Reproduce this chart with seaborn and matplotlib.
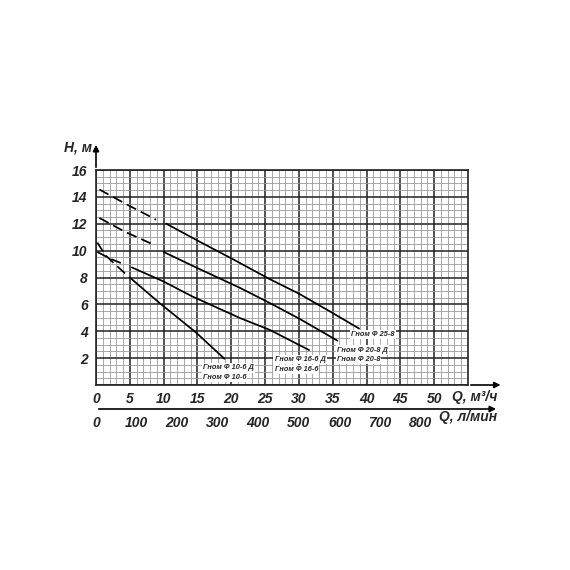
import numpy as np
import pandas as pd
import seaborn as sns
import matplotlib.pyplot as plt
from matplotlib.ticker import MultipleLocator

sns.set_theme(style="white")
plt.rcParams["font.family"] = ["Liberation Sans", "DejaVu Sans"]

## Curves: Q in m3/h, H in m
# dashed start (non-working zone) and solid working part for each pump
q25_dash = [0.5, 4.5, 8.9]
h25_dash = [14.55, 13.45, 12.3]
q25 = [10.4, 15.0, 20.1, 25.6, 30.0, 34.5, 38.9]
h25 = [12.0, 10.75, 9.4, 7.9, 6.8, 5.5, 4.2]

q20_dash = [0.5, 4.3, 8.7]
h20_dash = [12.43, 11.4, 10.4]
q20 = [10.0, 15.0, 21.2, 25.7, 30.0, 35.7]
h20 = [9.9, 8.7, 7.25, 6.1, 4.95, 3.3]

q16_dash = [0.2, 2.1, 4.3]
h16_dash = [9.9, 9.4, 8.95]
q16 = [5.3, 10.0, 14.2, 21.2, 25.7, 31.5]
h16 = [8.75, 7.7, 6.6, 5.0, 4.1, 2.6]

q10_dash = [0.2, 1.4, 4.3]
h10_dash = [10.6, 9.65, 8.3]
q10 = [5.0, 9.4, 14.8, 19.0]
h10 = [8.0, 6.1, 3.9, 1.95]

label_text = ["Гном Ф 25-8", "Гном Ф 20-8 Д", "Гном Ф 20-8",
              "Гном Ф 16-6 Д", "Гном Ф 16-6", "Гном Ф 10-6 Д", "Гном Ф 10-6"]
label_q = [37.7, 35.6, 35.6, 26.4, 26.4, 15.8, 15.8]
label_h = [3.77, 2.6, 1.9, 1.9, 1.15, 1.27, 0.57]

x_ticks = list(range(0, 55, 5))
y_ticks = list(range(0, 17, 2))
y_ticklabels = [""] + [str(v) for v in y_ticks[1:]]
lmin_ticks = list(range(0, 900, 100))

Q_MAX, H_MAX = 55, 16
M3H_TO_LMIN = 1000 / 60

curves = [
    (q25_dash, h25_dash, "dash"), (q25, h25, "solid"),
    (q20_dash, h20_dash, "dash"), (q20, h20, "solid"),
    (q16_dash, h16_dash, "dash"), (q16, h16, "solid"),
    (q10_dash, h10_dash, "dash"), (q10, h10, "solid"),
]

font = dict(weight="bold", style="italic")


def _style_ticklabels(axis):
    for lab in axis.get_xticklabels() + axis.get_yticklabels():
        lab.set_fontsize(10)
        lab.set_fontweight("bold")
        lab.set_fontstyle("italic")


fig = plt.figure(figsize=(5.7, 5.7), dpi=100)
ax = fig.add_axes([96 / 570, 1 - 385 / 570, 372 / 570, 215 / 570])

for qs, hs, kind in curves:
    df = pd.DataFrame({"Q": qs, "H": hs})
    sns.lineplot(data=df, x="Q", y="H", ax=ax, color="black", lw=1.25,
                 sort=False, estimator=None)
    if kind == "dash":
        ax.lines[-1].set_linestyle((0, (6, 3)))

for t, q, h in zip(label_text, label_q, label_h):
    ax.text(q, h, t, fontsize=5.3, ha="left", va="center", zorder=5,
            bbox=dict(facecolor="white", edgecolor="none", pad=0.8), **font)

ax.set_xlim(0, Q_MAX)
ax.set_ylim(0, H_MAX)
ax.set_xticks(x_ticks)
ax.set_yticks(y_ticks)
ax.set_yticklabels(y_ticklabels)
ax.xaxis.set_minor_locator(MultipleLocator(1))
ax.yaxis.set_minor_locator(MultipleLocator(0.5))
ax.grid(which="minor", color="#9a9a9a", lw=0.6)
ax.grid(which="major", color="#222222", lw=1.1)
ax.set_axisbelow(True)
ax.tick_params(which="both", length=0)
ax.tick_params(axis="x", pad=5)
ax.tick_params(axis="y", pad=6)
_style_ticklabels(ax)
for s in ax.spines.values():
    s.set_color("#222222")
    s.set_linewidth(1.2)
ax.set_xlabel("")
ax.set_ylabel("")

# axis arrows
arrow = dict(arrowstyle="-|>", color="black", lw=1.2, mutation_scale=9)
ax.annotate("", xy=(1.095, 0), xytext=(1.0, 0), xycoords="axes fraction",
            arrowprops=arrow, annotation_clip=False)
ax.annotate("", xy=(0, 1.13), xytext=(0, 1.0), xycoords="axes fraction",
            arrowprops=arrow, annotation_clip=False)
ax.text(-0.01, 1.105, "H, м", transform=ax.transAxes, ha="right", va="center",
        fontsize=10, **font)
ax.text(1.078, -0.055, "Q, м³/ч", transform=ax.transAxes, ha="right", va="center",
        fontsize=10, **font)

# second axis in l/min
ax2 = fig.add_axes([96 / 570, 1 - 409 / 570, 372 / 570, 0.0005])
ax2.set_xlim(0, Q_MAX * M3H_TO_LMIN)
ax2.set_yticks([])
ax2.set_xticks(lmin_ticks)
ax2.xaxis.set_minor_locator(MultipleLocator(50))
ax2.tick_params(axis="x", which="both", direction="inout", length=4, width=1, pad=3)
for s in ["top", "left", "right", "bottom"]:
    ax2.spines[s].set_visible(False)
ax2.patch.set_alpha(0)
_style_ticklabels(ax2)
ax2.annotate("", xy=(1.083, 0), xytext=(0, 0), xycoords="axes fraction",
             arrowprops=arrow, annotation_clip=False)
ax2.annotate("Q, л/мин", xy=(1.078, 0), xycoords="axes fraction",
             xytext=(0, -6), textcoords="offset points",
             ha="right", va="center", fontsize=10, annotation_clip=False, **font)

fig.savefig("out.png", dpi=100)
